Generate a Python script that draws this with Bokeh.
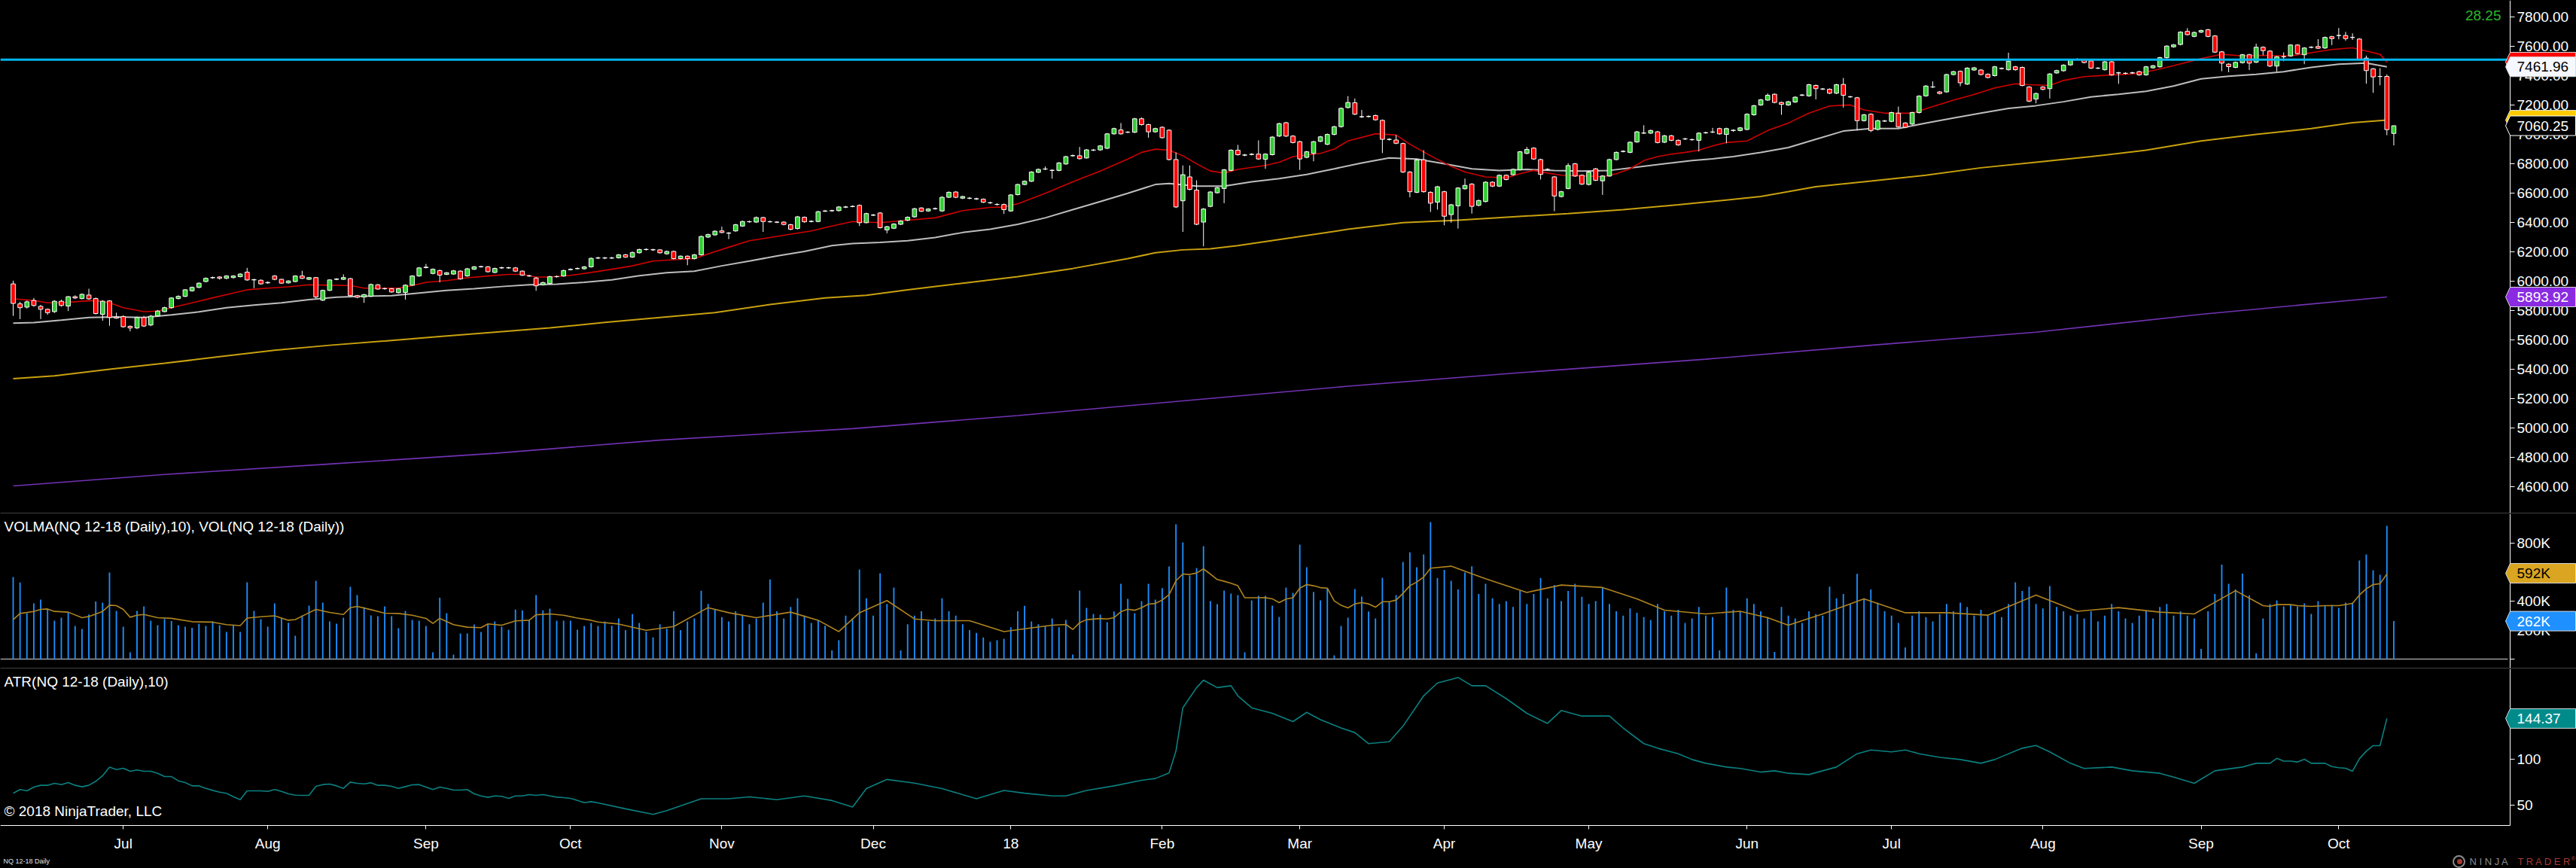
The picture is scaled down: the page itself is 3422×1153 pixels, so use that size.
from bokeh.plotting import figure
from bokeh.models import (Range1d, LinearAxis, FixedTicker, NumeralTickFormatter,
                          Span, Label, GlobalInlineStyleSheet)
from bokeh.layouts import column
from bokeh.core.properties import value
from bokeh.embed import file_html
from bokeh.resources import INLINE

# ---------------- data ----------------
OPEN = [
5983,5847,5825,5870,5830,5810,5794,5865,5832,5896,
5883,5907,5883,5776,5867,5758,5760,5694,5683,5754,
5703,5765,5794,5821,5883,5898,5936,5959,5999,6025,
6030,6021,6026,6032,6063,6010,6008,5990,6037,6014,
5990,5999,6037,6014,6026,5872,5939,6014,6014,6019,
5903,5894,5899,5977,5950,5950,5923,5925,5974,6037,
6094,6054,6074,6048,6050,6070,6037,6083,6099,6099,
6061,6092,6093,6092,6070,6038,6023,5977,5985,6032,
6037,6080,6087,6086,6099,6159,6160,6159,6161,6181,
6166,6195,6217,6216,6215,6188,6204,6155,6172,6155,
6181,6302,6317,6344,6330,6344,6377,6406,6404,6435,
6406,6404,6404,6386,6360,6437,6408,6408,6478,6481,
6482,6506,6510,6518,6400,6451,6466,6351,6362,6389,
6417,6440,6500,6480,6495,6480,6573,6609,6567,6567,
6562,6560,6536,6525,6524,6480,6591,6660,6682,6743,
6765,6756,6756,6800,6856,6856,6841,6894,6896,6907,
7005,7032,7016,7016,7108,7068,7019,7050,7030,6830,
6549,6712,6622,6404,6511,6604,6633,6756,6894,6861,
6865,6867,6832,6863,6990,7081,6990,6952,6845,6872,
6954,6934,7001,7054,7184,7217,7121,7124,7130,7097,
6968,6963,6939,6745,6607,6829,6607,6540,6611,6455,
6515,6631,6663,6518,6544,6676,6649,6723,6727,6761,
6872,6908,6830,6763,6712,6578,6633,6801,6723,6660,
6767,6685,6718,6830,6885,6879,6950,7010,7010,7019,
6948,6992,6961,6970,6966,6961,7012,7017,7041,7001,
7030,7028,7035,7135,7202,7235,7275,7219,7202,7222,
7268,7264,7335,7310,7309,7282,7342,7258,7251,7095,
7139,7035,7093,7090,7146,7079,7072,7150,7264,7324,
7291,7291,7409,7431,7344,7440,7440,7411,7402,7451,
7442,7462,7458,7324,7242,7324,7313,7420,7435,7475,
7512,7509,7502,7453,7442,7496,7420,7418,7420,7429,
7407,7455,7462,7524,7598,7614,7703,7669,7698,7714,
7672,7564,7480,7458,7490,7544,7493,7595,7569,7467,
7530,7536,7610,7544,7595,7600,7590,7667,7675,7675,
7662,7651,7521,7448,7396,7396,7008]

HIGH = [
6005,5861,5870,5887,5840,5815,5872,5875,5900,5905,
5918,5950,5890,5872,5872,5787,5770,5700,5760,5765,
5772,5805,5828,5892,5905,5948,5965,5993,6027,6033,
6036,6042,6042,6056,6092,6018,6013,6000,6043,6018,
6008,6042,6072,6030,6030,5944,6015,6022,6048,6024,
5908,5915,5985,5982,5958,5955,5955,5980,6042,6098,
6119,6088,6080,6064,6078,6075,6092,6105,6107,6105,
6094,6100,6099,6098,6075,6045,6030,5998,6038,6040,
6080,6088,6095,6105,6163,6168,6166,6167,6187,6187,
6203,6223,6225,6222,6220,6210,6210,6177,6177,6187,
6312,6325,6348,6373,6336,6392,6414,6414,6442,6440,
6414,6410,6410,6392,6446,6442,6416,6481,6487,6488,
6513,6514,6518,6524,6468,6460,6472,6378,6396,6417,
6443,6501,6506,6499,6503,6580,6613,6615,6584,6575,
6570,6565,6543,6532,6530,6595,6666,6688,6751,6769,
6783,6764,6813,6856,6864,6916,6902,6902,6929,7011,
7047,7079,7024,7114,7117,7074,7047,7056,7036,6879,
6790,6790,6689,6499,6615,6644,6766,6900,6930,6868,
6873,6961,6873,6990,7081,7087,6996,6958,6889,6958,
6991,7007,7060,7185,7262,7246,7168,7131,7136,7103,
6975,6997,6945,6751,6833,6894,6613,6651,6617,6528,
6642,6700,6669,6557,6682,6682,6729,6729,6769,6889,
6916,6914,6836,6770,6718,6617,6805,6807,6729,6751,
6773,6724,6836,6885,6893,6954,7025,7064,7034,7025,
6998,6998,6967,6978,6973,7016,7020,7046,7047,7047,
7036,7052,7145,7203,7243,7280,7281,7225,7230,7261,
7276,7346,7341,7317,7315,7346,7386,7264,7257,7141,
7145,7101,7100,7156,7191,7085,7156,7268,7337,7362,
7297,7415,7435,7437,7459,7461,7446,7417,7468,7457,
7558,7468,7464,7330,7286,7330,7419,7442,7479,7515,
7520,7515,7508,7460,7502,7502,7428,7424,7428,7435,
7468,7475,7530,7609,7617,7704,7725,7702,7715,7720,
7678,7570,7486,7498,7550,7550,7620,7601,7575,7536,
7560,7616,7616,7596,7602,7650,7668,7673,7726,7700,
7690,7657,7538,7453,7453,7410,7063]

LOW = [
5765,5743,5815,5828,5743,5772,5785,5828,5798,5880,
5878,5875,5775,5732,5698,5745,5685,5660,5675,5690,
5695,5760,5790,5815,5878,5893,5930,5954,5994,6018,
6012,6015,6020,6028,6004,5954,5978,5985,6008,5983,
5985,5994,6016,6010,5885,5866,5934,6008,6010,5897,
5885,5854,5894,5943,5943,5922,5918,5876,5970,6032,
6088,6048,5994,6043,6045,6012,6032,6078,6094,6060,
6056,6086,6086,6064,6037,6030,5936,5972,5980,6026,
6032,6075,6082,6080,6094,6152,6152,6153,6156,6160,
6160,6190,6210,6208,6190,6182,6150,6150,6110,6150,
6176,6296,6312,6328,6288,6338,6372,6400,6398,6337,
6400,6397,6382,6349,6354,6400,6402,6403,6473,6475,
6476,6500,6505,6377,6395,6445,6360,6328,6357,6384,
6411,6434,6472,6474,6489,6474,6568,6567,6561,6560,
6555,6534,6528,6516,6460,6474,6586,6655,6677,6738,
6758,6700,6750,6795,6850,6830,6836,6888,6890,6901,
7000,7000,7010,7010,7062,6979,7013,6973,6824,6500,
6337,6620,6383,6239,6505,6598,6533,6750,6857,6853,
6859,6828,6767,6858,6984,6984,6940,6760,6839,6818,
6948,6928,6995,7048,7178,7133,7114,7116,7095,6874,
6960,6935,6739,6573,6601,6605,6473,6489,6382,6400,
6360,6625,6462,6512,6538,6643,6643,6688,6721,6755,
6866,6828,6694,6755,6478,6572,6627,6712,6657,6654,
6683,6589,6712,6824,6879,6873,6944,7004,7004,6940,
6942,6955,6924,6963,6958,6885,7005,7010,6999,6941,
7020,7022,7029,7129,7196,7229,7213,7135,7196,7216,
7262,7258,7240,7304,7276,7276,7184,7250,7028,7089,
7017,7029,7086,7084,7046,7044,7066,7144,7258,7318,
7274,7285,7403,7330,7338,7434,7403,7383,7396,7444,
7436,7436,7329,7222,7213,7302,7246,7414,7429,7469,
7506,7485,7447,7446,7436,7401,7346,7410,7414,7401,
7401,7449,7456,7518,7592,7608,7675,7663,7692,7663,
7556,7432,7425,7452,7484,7440,7487,7540,7461,7430,
7500,7530,7546,7480,7588,7583,7584,7610,7649,7640,
7645,7507,7347,7285,7336,6996,6926]

CLOSE = [
5850,5821,5861,5836,5810,5787,5865,5836,5896,5887,
5912,5881,5781,5865,5754,5750,5691,5683,5754,5696,
5763,5798,5821,5887,5898,5943,5959,5988,6021,6026,
6021,6037,6037,6050,6010,6012,5983,5993,6014,5988,
6003,6037,6021,6026,5894,5939,6010,6016,6026,5903,
5892,5910,5979,5948,5951,5928,5950,5974,6037,6092,
6097,6083,6043,6059,6072,6017,6086,6099,6101,6066,
6088,6093,6092,6070,6043,6037,5970,5992,6032,6033,
6074,6082,6088,6099,6157,6160,6159,6160,6181,6166,
6197,6217,6218,6215,6195,6204,6155,6172,6155,6181,
6306,6319,6342,6333,6328,6386,6408,6407,6435,6408,
6407,6403,6388,6355,6440,6406,6409,6475,6480,6482,
6507,6507,6511,6400,6462,6452,6366,6373,6391,6411,
6437,6495,6478,6493,6496,6573,6607,6573,6578,6566,
6563,6540,6535,6524,6489,6589,6660,6682,6745,6763,
6766,6757,6807,6850,6857,6836,6896,6895,6923,7005,
7041,7005,7017,7108,7068,7019,7041,6979,6830,6507,
6727,6627,6389,6493,6609,6638,6760,6894,6863,6860,
6866,6834,6867,6983,7075,6990,6946,6834,6883,6952,
6985,7001,7054,7179,7219,7139,7122,7123,7101,6968,
6967,6941,6745,6611,6827,6611,6533,6645,6444,6522,
6636,6654,6511,6551,6676,6649,6723,6694,6763,6883,
6899,6834,6729,6762,6582,6611,6789,6718,6663,6745,
6689,6718,6830,6879,6886,6948,7019,7011,7028,6946,
6992,6961,6930,6971,6965,7010,7013,7018,7005,7041,
7028,7046,7139,7197,7237,7268,7219,7206,7224,7255,
7270,7340,7313,7311,7282,7340,7268,7257,7095,7135,
7028,7095,7092,7150,7052,7050,7150,7262,7331,7325,
7280,7409,7429,7353,7453,7455,7409,7389,7462,7450,
7500,7442,7335,7228,7280,7308,7413,7436,7473,7509,
7513,7491,7453,7452,7496,7407,7421,7417,7421,7407,
7462,7469,7524,7603,7611,7698,7681,7696,7709,7669,
7562,7487,7463,7492,7544,7487,7595,7572,7467,7530,
7531,7610,7552,7590,7595,7588,7662,7654,7675,7654,
7662,7513,7436,7393,7396,7034,7060.25]

# volume in thousands of contracts
VOLUME = [
566,528,317,384,410,342,265,286,320,228,
208,308,398,390,597,332,223,47,332,364,
265,234,277,262,234,223,215,244,228,260,
234,187,234,187,530,332,275,223,384,286,
251,161,301,369,540,390,260,244,286,499,
442,359,301,296,364,296,213,332,270,265,
228,47,424,317,31,177,177,239,187,244,
260,223,203,342,337,270,442,337,348,265,
265,265,203,228,249,228,260,230,280,200,
310,250,190,150,240,210,330,200,260,280,
472,380,340,290,260,330,300,240,280,390,
550,330,280,360,420,300,250,270,230,60,
130,300,280,618,420,300,592,380,494,60,
240,300,330,260,280,420,330,300,240,200,
180,150,120,130,140,220,330,367,260,240,
230,280,220,270,31,473,353,312,306,255,
328,520,416,317,400,520,410,489,639,930,
805,576,628,779,400,379,473,452,442,47,
405,436,436,369,291,494,457,790,634,463,
405,489,26,228,286,483,431,328,281,561,
395,442,670,737,634,722,945,560,615,540,
480,597,640,450,520,420,380,400,360,470,
380,450,560,420,510,400,470,520,430,380,
400,494,380,330,300,350,320,290,270,380,
330,300,340,250,280,360,300,290,60,494,
340,330,420,380,330,290,50,360,300,280,
250,330,310,300,500,420,450,380,588,420,
480,390,330,300,250,80,300,330,290,260,
310,380,330,390,360,300,340,300,330,290,
380,530,470,500,380,350,504,360,330,300,
310,280,330,260,300,380,330,280,250,300,
330,280,360,380,300,330,300,280,70,330,
450,652,520,480,590,440,40,280,379,405,
364,374,364,384,312,400,369,374,353,390,
390,680,722,613,582,920,262]

# moving averages (bar index, value)
SMA20_IDX = [0,3,5,7,10,12,14,16,19,21,23,26,29,32,34,37,40,43,46,49,51,54,56,58,60,63,66,69,72,74,
             76,78,81,84,87,90,93,96,99,101,104,107,110,113,116,119,122,126,130,134,138,142,144,146,150,
             154,158,162,164,166,168,170,172,174,176,178,182,184,186,190,192,194,198,201,203,206,209,211,
             214,217,219,221,223,225,227,229,231,233,235,237,239,241,243,245,247,249,252,255,258,261,264,
             267,269,272,276,279,282,285,288,291,293,296,298,301,305,308,311,314,318,321,324,327,331,334,
             337,340,342,344,345]
SMA20_VAL = [5881,5870,5854,5854,5865,5870,5854,5821,5794,5798,5821,5854,5888,5921,5943,5954,5963,5977,5974,5972,
             5954,5954,5954,5972,5994,6005,6025,6037,6048,6048,6030,6030,6041,6061,6083,6106,6139,6148,6155,6188,
             6233,6277,6299,6322,6344,6377,6408,6400,6417,6433,6482,6504,6507,6529,6600,6678,6752,6834,6879,6901,
             6894,6856,6801,6752,6738,6763,6790,6812,6850,6872,6901,6957,7006,6997,6934,6856,6783,6745,6712,6705,
             6734,6756,6738,6723,6720,6718,6712,6734,6767,6823,6850,6867,6879,6894,6923,6946,6957,7028,7079,7146,
             7195,7202,7168,7146,7146,7191,7235,7273,7318,7346,7340,7335,7369,7395,7406,7413,7436,7469,7518,7547,
             7536,7540,7536,7558,7580,7591,7569,7547,7494]

SMA50_IDX = [0,3,7,11,15,19,23,27,31,35,39,43,47,51,55,59,63,67,71,75,79,83,87,91,95,99,103,107,111,115,
             119,122,126,130,134,138,142,146,150,154,158,162,166,168,172,176,180,184,188,192,196,200,204,208,
             212,216,220,224,228,232,236,240,244,247,250,254,258,262,266,270,274,278,282,286,290,294,298,302,
             306,310,314,318,322,326,330,334,338,342,345]
SMA50_VAL = [5716,5720,5736,5754,5758,5754,5772,5792,5821,5839,5854,5876,5892,5899,5903,5921,5939,5950,5965,5977,
             5981,5994,6010,6039,6059,6070,6106,6139,6173,6204,6244,6258,6266,6277,6299,6333,6355,6389,6433,6489,
             6544,6600,6660,6667,6649,6649,6678,6700,6729,6767,6807,6841,6834,6801,6767,6756,6763,6756,6752,6756,
             6778,6801,6823,6835,6850,6879,6912,6968,7024,7041,7041,7079,7113,7146,7179,7197,7224,7257,7275,7295,
             7331,7380,7398,7411,7429,7458,7480,7487,7461.96]

SMA200_IDX = [0,6,14,22,30,38,46,54,62,70,78,86,94,102,110,118,124,130,138,146,154,162,166,170,174,178,
              186,194,202,210,218,226,234,242,247,254,262,270,278,286,294,302,310,318,326,334,340,345]
SMA200_VAL = [5337,5357,5402,5442,5487,5531,5565,5594,5625,5654,5683,5721,5754,5787,5843,5888,5905,5943,5988,
              6032,6088,6155,6195,6215,6222,6244,6299,6355,6400,6417,6440,6462,6489,6522,6545,6578,6645,6683,
              6723,6774,6812,6850,6894,6957,7001,7041,7081,7099]

LONG_SMA_IDX = [0,22,46,70,94,122,146,170,194,218,246,270,294,318,345]
LONG_SMA_VAL = [4607,4685,4756,4829,4919,4997,5086,5186,5286,5375,5470,5565,5654,5776,5893.92]

HLINE_PRICE = 7511

VOLMA_IDX = [0,1,3,4,5,6,8,10,11,13,14,15,16,17,18,19,21,23,26,29,31,33,34,36,38,40,41,43,44,46,48,49,50,
             52,54,56,58,60,61,62,64,66,68,69,71,73,75,76,78,80,82,84,85,88,92,96,101,104,108,113,117,120,
             123,127,131,134,139,144,148,151,153,154,155,156,158,159,160,161,162,163,164,165,166,167,168,
             169,170,171,172,173,174,175,176,177,178,179,180,181,182,183,184,185,186,187,188,189,190,191,
             192,193,194,195,196,197,198,199,200,201,202,203,204,205,206,209,214,220,225,231,236,240,246,
             251,255,258,263,269,275,281,287,294,300,306,312,317,323,327,328,329,331,332,334,336,338,340,
             341,342,343,344,345]
VOLMA_VAL = [272,315,329,343,346,329,324,286,294,329,372,369,343,289,303,308,286,281,258,255,238,231,283,292,
             299,268,273,320,343,322,308,355,364,341,317,315,303,281,246,281,238,220,217,243,234,264,268,306,
             312,303,283,268,256,242,199,225,355,320,286,324,268,190,320,404,277,265,265,190,216,234,239,204,
             251,272,280,277,286,327,344,337,355,379,384,407,445,540,587,584,594,622,587,549,537,523,506,423,
             423,423,424,416,390,414,423,490,514,506,493,490,402,371,353,381,390,381,358,396,396,407,454,506,
             532,566,627,641,554,460,511,494,416,338,312,330,286,234,312,416,320,320,303,442,330,355,324,312,
             472,369,364,376,376,369,364,369,369,384,442,485,514,520,587]

ATR_IDX = list(range(0, 86)) + [89,93,95,100,104,107,111,115,119,122,124,127,131,135,140,144,147,151,153,156,
           160,164,166,168,169,170,172,173,175,177,178,180,183,186,188,190,193,195,197,200,202,205,207,210,
           212,214,217,220,223,225,228,232,234,237,239,242,244,246,249,251,254,256,258,261,263,265,268,270,
           273,275,277,280,283,286,288,292,294,296,299,301,305,308,312,314,317,320,324,326,327,328,329,330,
           331,332,333,334,335,336,337,338,339,340,341,342,343,344,345]
ATR_VAL = [62.9,67,65.6,69.7,71.6,71.6,73.8,72.4,74.6,71.6,70,71.6,76,82,91.3,88.8,90.2,86.9,88.3,86.9,
           86.9,84.7,81.1,81.1,76.5,74.6,71,71,68.3,66.1,64.2,62.9,59.3,56,65.6,65.6,65.6,65,67,65,
           62.3,60.9,60.7,60.7,70.5,72.4,73,71,68.3,75.1,73.8,73.2,74.3,71.6,71.6,70.5,68.3,70.2,72.1,72.4,
           69.7,67,69.7,68.3,66.4,66.4,67,62.3,60.1,58.5,60.1,59.6,57.4,60.1,60.1,61.5,60.7,61.5,60.1,58.7,
           58.2,57.4,55.2,52.7,53.8,52.4,
           46,40,44,57,57,59,56,60,55,48,68,78,74,68,57,66,63,60,60,66,
           71,77,79,85,109,156,178,186,178,180,169,156,150,141,151,143,134,129,117,119,136,169,183,189,
           180,180,166,150,139,153,147,147,134,117,112,106,99.7,95.6,91.5,90,86,87.4,84.7,83.3,87.4,91.5,106,110,
           108,110,106,102,99.7,95.6,99.7,112,115,108,95.6,90,91.5,87.4,84.7,80.6,73.8,87.4,91.5,95.6,95.6,95.6,101,98,
           98,97,100,95.6,95.6,95.6,92,90.8,90.2,86.9,100.5,108.7,114.8,114.8,144.37]

MONTH_IDX = [16, 37, 60, 81, 103, 125, 145, 167, 187, 208, 229, 252, 273, 295, 318, 338]
MONTH_LABELS = ["Jul", "Aug", "Sep", "Oct", "Nov", "Dec", "18", "Feb", "Mar", "Apr", "May", "Jun",
                "Jul", "Aug", "Sep", "Oct"]

PRICE_TICKS = list(range(4600, 7801, 200))
VOL_TICKS = [0, 200, 400, 800]
ATR_TICKS = [50, 100]

NET_CHANGE_TEXT = "28.25"
LAST_PRICE = 7060.25
VOLMA_LAST = 592
VOL_LAST = 262
ATR_LAST = 144.37

# ---------------- geometry / style ----------------
W = 3422
PRICE_H, VOL_H, ATR_H = 682, 206, 265
X0_PX, DX_PX = 17.0, 9.14
FONT = "Liberation Sans"


def px_to_x(px):
    return (px - X0_PX) / DX_PX


XR = Range1d(px_to_x(0), px_to_x(W))
AXIS_X = px_to_x(3334)
TAG_TIP = px_to_x(3328)
TAG_RIGHT = px_to_x(3421)
TAG_TEXT_X = px_to_x(3343)

# price panel: 7800 at 22.3px, 0.195 px per point
P_SCALE = 0.195
PRICE_R = Range1d(7800 - (681 - 22.3) / P_SCALE, 7800 + 22.3 / P_SCALE)
# volume panel: 0 at 875px (page), 0.1925 px per K, frame 682..887
V_SCALE = 0.1925
VOL_R = Range1d(-(887 - 875) / V_SCALE, (875 - 682) / V_SCALE)
# ATR panel: 100 at 1008px, 1.22 px per unit, frame 888..1153
A_SCALE = 1.22
ATR_R = Range1d(100 - (1153 - 1008) / A_SCALE, 100 + (1008 - 888) / A_SCALE)
ATR_AXIS_Y = 100 - (1096 - 1008) / A_SCALE


def make_fig(h, yr, bottom_border):
    p = figure(width=W, height=h, x_range=XR, y_range=yr, output_backend="svg",
               toolbar_location=None, x_axis_location=None, y_axis_location=None,
               background_fill_color="black",
               border_fill_color="white" if bottom_border else "black",
               min_border=0, min_border_bottom=bottom_border, min_border_left=0,
               min_border_right=0, min_border_top=0, outline_line_color=None)
    p.grid.visible = False
    return p


def style_axis(ax, standoff=3, tick_out=6):
    ax.axis_line_color = "white"
    ax.axis_line_width = 1
    ax.major_tick_line_color = "white"
    ax.major_tick_out = tick_out
    ax.major_tick_in = 0
    ax.minor_tick_out = 0
    ax.minor_tick_in = 0
    ax.major_label_text_color = "white"
    ax.major_label_text_font = FONT
    ax.major_label_text_font_size = "19px"
    ax.major_label_standoff = standoff


def add_tag(p, v, half, fill, text=None, text_color="white", line="#dcdcdc"):
    xs = [TAG_TIP, AXIS_X, TAG_RIGHT, TAG_RIGHT, AXIS_X]
    ys = [v, v + half, v + half, v - half, v - half]
    p.patch(xs, ys, fill_color=fill, line_color=line, line_width=1, level="overlay")
    if text:
        p.text([TAG_TEXT_X], [v], text=[text], text_font=value(FONT), text_font_size="19px",
               text_color=text_color, text_baseline="middle", text_align="left", level="overlay")


n = min(len(OPEN), len(HIGH), len(LOW), len(CLOSE), len(VOLUME))
idx = list(range(n))

# ---------------- price panel ----------------
pp = make_fig(PRICE_H, PRICE_R, 1)
pp.line(LONG_SMA_IDX, LONG_SMA_VAL, line_color="#7232b4", line_width=1.6)
pp.line(SMA200_IDX, SMA200_VAL, line_color="#c9a10e", line_width=2)
pp.line(SMA50_IDX, SMA50_VAL, line_color="#bdbdbd", line_width=2)
pp.line(SMA20_IDX, SMA20_VAL, line_color="#d00000", line_width=1.6)

b_top = [max(OPEN[i], CLOSE[i]) for i in idx]
b_bot = [min(OPEN[i], CLOSE[i]) for i in idx]
b_col = ["#32cd32" if CLOSE[i] >= OPEN[i] else "#ff0000" for i in idx]
pp.segment(idx, LOW[:n], idx, HIGH[:n], line_color="white", line_width=1)
pp.vbar(x=idx, top=b_top, bottom=b_bot, width=0.62, fill_color=b_col,
        line_color="white", line_width=1)

pp.add_layout(Span(location=HLINE_PRICE, dimension="width", line_color="#00b7ef", line_width=3))

pax = LinearAxis(fixed_location=AXIS_X, ticker=FixedTicker(ticks=PRICE_TICKS),
                 formatter=NumeralTickFormatter(format="0.00"))
style_axis(pax)
pp.add_layout(pax, "right")

ph = 13 / P_SCALE
add_tag(pp, SMA20_VAL[-1], ph, "#ff0000")
add_tag(pp, SMA50_VAL[-1], ph, "#f6f8ff", "%.2f" % SMA50_VAL[-1], "black")
add_tag(pp, SMA200_VAL[-1], ph, "#ffcc00")
add_tag(pp, LAST_PRICE, ph, "black", "%.2f" % LAST_PRICE, "white", line="white")
add_tag(pp, LONG_SMA_VAL[-1], ph, "#8a2be2", "%.2f" % LONG_SMA_VAL[-1], "white")

pp.add_layout(Label(x=3322, y=681 - 20.4, x_units="screen", y_units="screen", text=NET_CHANGE_TEXT,
                    text_color="#2cb52c", text_font=FONT, text_font_size="19px",
                    text_align="right", text_baseline="middle"))

# ---------------- volume panel ----------------
pv = make_fig(VOL_H, VOL_R, 1)
pv.segment([px_to_x(0)], [0], [px_to_x(3331)], [0], line_color="#9c9c9c", line_width=1.5)
pv.vbar(x=idx, top=VOLUME[:n], bottom=0, width=0.2, fill_color="#1e90ff", line_color=None)
pv.line(VOLMA_IDX, VOLMA_VAL, line_color="#b08420", line_width=1.6)

vax = LinearAxis(fixed_location=AXIS_X, ticker=FixedTicker(ticks=VOL_TICKS))
vax.major_label_overrides = {t: ("" if t == 0 else "%dK" % t) for t in VOL_TICKS}
style_axis(vax)
pv.add_layout(vax, "right")

vh = 13 / V_SCALE
add_tag(pv, VOLMA_LAST, vh, "#daa520", "%dK" % VOLMA_LAST, "black")
add_tag(pv, VOL_LAST, vh, "#1e90ff", "%dK" % VOL_LAST, "white")

pv.add_layout(Label(x=5, y=205 - 17, x_units="screen", y_units="screen",
                    text="VOLMA(NQ 12-18 (Daily),10), VOL(NQ 12-18 (Daily))",
                    text_color="white", text_font=FONT, text_font_size="19px",
                    text_baseline="middle"))

# ---------------- ATR panel ----------------
pa = make_fig(ATR_H, ATR_R, 0)
pa.line(ATR_IDX, ATR_VAL, line_color="#0b8080", line_width=1.6)

aax = LinearAxis(fixed_location=AXIS_X, ticker=FixedTicker(ticks=ATR_TICKS),
                 bounds=(ATR_AXIS_Y, ATR_R.end))
style_axis(aax)
pa.add_layout(aax, "right")

xax = LinearAxis(fixed_location=ATR_AXIS_Y, ticker=FixedTicker(ticks=MONTH_IDX),
                 bounds=(px_to_x(0), AXIS_X))
xax.major_label_overrides = {i: lab for i, lab in zip(MONTH_IDX, MONTH_LABELS)}
style_axis(xax, standoff=8, tick_out=5)
pa.add_layout(xax, "below")

ah = 13 / A_SCALE
add_tag(pa, ATR_LAST, ah, "#008b8b", "%.2f" % ATR_LAST, "white")

pa.add_layout(Label(x=5, y=265 - 17, x_units="screen", y_units="screen",
                    text="ATR(NQ 12-18 (Daily),10)", text_color="white", text_font=FONT,
                    text_font_size="19px", text_baseline="middle"))
pa.add_layout(Label(x=5, y=265 - 189, x_units="screen", y_units="screen",
                    text="\u00a9 2018 NinjaTrader, LLC", text_color="white", text_font=FONT,
                    text_font_size="19px", text_baseline="middle"))
pa.add_layout(Label(x=4, y=10, x_units="screen", y_units="screen",
                    text="NQ 12-18 Daily", text_color="#e0e0e0", text_font=FONT,
                    text_font_size="9px", text_baseline="middle"))
# NinjaTrader logo
logo_y = 100 - (1144 - 1008) / A_SCALE
pa.scatter([px_to_x(3266)], [logo_y], size=15, marker="circle", fill_color=None,
           line_color="#8c8c8c", line_width=2)
pa.scatter([px_to_x(3267)], [logo_y], size=7, marker="circle", fill_color="#a83a30",
           line_color=None)
pa.add_layout(Label(x=3280, y=9, x_units="screen", y_units="screen", text="N I N J A",
                    text_color="#8c8c8c", text_font=FONT, text_font_size="13px",
                    text_baseline="middle"))
pa.add_layout(Label(x=3344, y=9, x_units="screen", y_units="screen", text="T R A D E R",
                    text_color="#a83a30", text_font=FONT, text_font_size="13px",
                    text_baseline="middle"))
pa.add_layout(Label(x=3415, y=13, x_units="screen", y_units="screen", text="\u00ae",
                    text_color="#a83a30", text_font=FONT, text_font_size="8px",
                    text_baseline="middle"))

layout = column(pp, pv, pa, spacing=0)
layout.stylesheets = [GlobalInlineStyleSheet(
    css="html, body { margin: 0 !important; padding: 0 !important; background: #000; overflow: hidden; }")]

open("out.html", "w").write(file_html(layout, INLINE))
